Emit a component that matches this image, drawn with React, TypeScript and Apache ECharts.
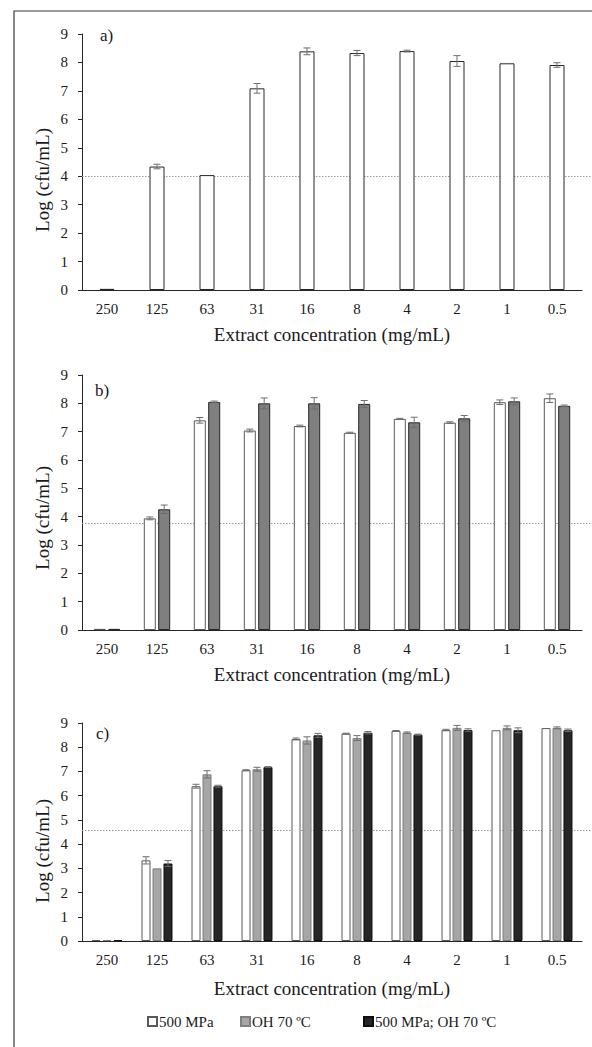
import React, { useEffect, useRef } from "react";
import * as echarts from "echarts";

// ---------- DATA ----------
const categories = ["250", "125", "63", "31", "16", "8", "4", "2", "1", "0.5"];

// Panel a
const aValues = [0.04, 4.34, 4.04, 7.09, 8.39, 8.33, 8.4, 8.05, 7.97, 7.91];
const aErrors = [0, 0.08, 0, 0.17, 0.12, 0.09, 0.03, 0.19, 0, 0.08];
const aThreshold = 4.0;

// Panel b
const bWhite = [0.04, 3.94, 7.4, 7.04, 7.2, 6.96, 7.45, 7.32, 8.04, 8.18];
const bWhiteErr = [0, 0.05, 0.1, 0.05, 0.03, 0.02, 0.02, 0.03, 0.08, 0.15];
const bGray = [0.04, 4.26, 8.05, 8.0, 8.0, 7.98, 7.33, 7.47, 8.07, 7.91];
const bGrayErr = [0, 0.15, 0.03, 0.19, 0.2, 0.12, 0.18, 0.1, 0.12, 0.03];
const bThreshold = 3.77;

// Panel c
const c500 = [0.04, 3.33, 6.39, 7.05, 8.34, 8.56, 8.67, 8.71, 8.7, 8.79];
const c500Err = [0, 0.15, 0.08, 0.02, 0.04, 0.02, 0.02, 0.03, 0, 0];
const cOH = [0.04, 3.0, 6.88, 7.09, 8.28, 8.38, 8.6, 8.8, 8.8, 8.8];
const cOHErr = [0, 0, 0.15, 0.08, 0.15, 0.1, 0.03, 0.1, 0.08, 0.04];
const cBoth = [0.04, 3.2, 6.39, 7.18, 8.49, 8.6, 8.52, 8.71, 8.7, 8.7];
const cBothErr = [0, 0.12, 0.04, 0.02, 0.08, 0.05, 0.02, 0.05, 0.1, 0.05];
const cThreshold = 4.57;

const legendNames = ["500 MPa", "OH 70 ºC", "500 MPa; OH 70 ºC"];
const panelLabels = ["a)", "b)", "c)"];
const yTitle = "Log (cfu/mL)";
const xTitle = "Extract concentration (mg/mL)";

// ---------- STYLE ----------
const FONT = '"Liberation Serif", "Times New Roman", serif';
const AXIS = "#262626";
const TEXT = "#1a1a1a";

const grids = [
  { left: 82, width: 500, top: 34, height: 256, nameGap: 35 },
  { left: 82, width: 500, top: 375, height: 255, nameGap: 35 },
  { left: 82, width: 500, top: 723, height: 218, nameGap: 38 },
];

function errSeries(gi: number, n: number, bw: number, gap: number, sIdx: number, vals: number[], errs: number[]) {
  return {
    type: "custom",
    xAxisIndex: gi,
    yAxisIndex: gi,
    z: 5,
    silent: true,
    data: vals.map((v, i) => [i, v, errs[i]]),
    encode: { x: 0, y: 1 },
    renderItem: (_p: any, api: any) => {
      const i = api.value(0);
      const v = api.value(1);
      const e = api.value(2);
      if (!e) return { type: "group", children: [] };
      const c = api.coord([i, v]);
      const total = n * bw + (n - 1) * gap;
      const x = c[0] - total / 2 + sIdx * (bw + gap) + bw / 2;
      const t = api.coord([i, v + e])[1];
      const b = api.coord([i, v - e])[1];
      const cap = 3.5;
      const style = { stroke: "#6e6e6e", lineWidth: 1 };
      return {
        type: "group",
        children: [
          { type: "line", shape: { x1: x, y1: t, x2: x, y2: b }, style },
          { type: "line", shape: { x1: x - cap, y1: t, x2: x + cap, y2: t }, style },
          { type: "line", shape: { x1: x - cap, y1: b, x2: x + cap, y2: b }, style },
        ],
      };
    },
  };
}

function barSeries(gi: number, name: string, vals: number[], fill: string, border: string, bw: number, gapPct: string) {
  return {
    type: "bar",
    name,
    xAxisIndex: gi,
    yAxisIndex: gi,
    data: vals,
    barWidth: bw,
    barGap: gapPct,
    itemStyle: { color: fill, borderColor: border, borderWidth: 1 },
    silent: true,
  };
}

export default function App() {
  const ref = useRef<HTMLDivElement>(null);
  useEffect(() => {
    if (!ref.current) return;
    const chart = echarts.init(ref.current, null, { renderer: "svg" });

    const xAxes = grids.map((g, gi) => ({
      type: "category",
      gridIndex: gi,
      data: categories,
      axisLine: { show: true, lineStyle: { color: AXIS, width: 1 } },
      axisTick: { show: false },
      axisLabel: { color: TEXT, fontFamily: FONT, fontSize: 15, margin: 11, interval: 0 },
      splitLine: { show: false },
      name: xTitle,
      nameLocation: "middle",
      nameGap: g.nameGap,
      nameTextStyle: { color: TEXT, fontFamily: FONT, fontSize: 19 },
    }));
    const yAxes = grids.map((_g, gi) => ({
      type: "value",
      gridIndex: gi,
      min: 0,
      max: 9,
      interval: 1,
      axisLine: { show: true, lineStyle: { color: AXIS, width: 1 } },
      axisTick: { show: true, length: 4, inside: false, lineStyle: { color: AXIS } },
      axisLabel: { color: TEXT, fontFamily: FONT, fontSize: 15, margin: 14 },
      splitLine: { show: false },
    }));

    const bwA = 15, bwB = 12, bwC = 9;
    const gB = bwB * 0.2, gC = bwC * 0.22;

    const series: any[] = [
      barSeries(0, "a-values", aValues, "#ffffff", "#262626", bwA, "0%"),
      errSeries(0, 1, bwA, 0, 0, aValues, aErrors),

      barSeries(1, "b-white", bWhite, "#ffffff", "#595959", bwB, "20%"),
      barSeries(1, "b-gray", bGray, "#7f7f7f", "#262626", bwB, "20%"),
      errSeries(1, 2, bwB, gB, 0, bWhite, bWhiteErr),
      errSeries(1, 2, bwB, gB, 1, bGray, bGrayErr),

      barSeries(2, legendNames[0], c500, "#ffffff", "#595959", bwC, "22%"),
      barSeries(2, legendNames[1], cOH, "#a6a6a6", "#7f7f7f", bwC, "22%"),
      barSeries(2, legendNames[2], cBoth, "#262626", "#0d0d0d", bwC, "22%"),
      errSeries(2, 3, bwC, gC, 0, c500, c500Err),
      errSeries(2, 3, bwC, gC, 1, cOH, cOHErr),
      errSeries(2, 3, bwC, gC, 2, cBoth, cBothErr),
    ];

    const legendLefts = [147, 240, 363];
    const legends = legendNames.map((nm, i) => ({
      show: true,
      left: legendLefts[i],
      top: 1014,
      orient: "horizontal",
      data: [nm],
      icon: "rect",
      itemWidth: 9,
      itemHeight: 9,
      selectedMode: false,
      padding: 0,
      textStyle: { color: TEXT, fontFamily: FONT, fontSize: 15, padding: [0, 0, 0, -3] },
    }));

    chart.setOption({
      animation: false,
      backgroundColor: "#ffffff",
      grid: grids.map((g) => ({
        left: g.left,
        width: g.width,
        top: g.top,
        height: g.height,
        containLabel: false,
        outerBoundsMode: "none",
      })),
      xAxis: xAxes,
      yAxis: yAxes,
      legend: legends,
      series,
    });

    const thresholds = [aThreshold, bThreshold, cThreshold];
    const graphics: any[] = [];
    graphics.push({
      type: "rect",
      shape: { x: 14, y: 11, width: 800, height: 1200 },
      style: { fill: "none", stroke: "#3a3a3a", lineWidth: 1.2 },
      silent: true,
      z: 0,
    });
    thresholds.forEach((th, gi) => {
      const p = chart.convertToPixel({ xAxisIndex: gi, yAxisIndex: gi } as any, [0, th]) as number[];
      const y = Math.round(p[1]) + 0.5;
      graphics.push({
        type: "line",
        shape: { x1: grids[gi].left, y1: y, x2: 592, y2: y },
        style: { stroke: "#9a9a9a", lineWidth: 1, lineDash: [1.5, 1.5] },
        silent: true,
        z: 1,
      });
    });
    const labelPos = [
      [100, 35],
      [95, 390],
      [96, 733],
    ];
    panelLabels.forEach((t, i) => {
      graphics.push({
        type: "text",
        x: labelPos[i][0],
        y: labelPos[i][1],
        style: {
          text: t,
          font: `17px ${FONT}`,
          fill: TEXT,
          textAlign: "left",
          textVerticalAlign: "middle",
          align: "left",
          verticalAlign: "middle",
        },
        silent: true,
        z: 10,
      });
    });
    const yTitlePos = [180, 518, 851];
    yTitlePos.forEach((yy) => {
      graphics.push({
        type: "text",
        x: 42,
        y: yy,
        rotation: Math.PI / 2,
        style: {
          text: yTitle,
          font: `19px ${FONT}`,
          fill: TEXT,
          textAlign: "center",
          textVerticalAlign: "middle",
          align: "center",
          verticalAlign: "middle",
        },
        silent: true,
        z: 10,
      });
    });
    chart.setOption({ graphic: graphics });

    return () => chart.dispose();
  }, []);

  return (
    <div
      ref={ref}
      style={{ position: "absolute", left: 0, top: 0, width: 592, height: 1047, background: "#fff" }}
    />
  );
}
